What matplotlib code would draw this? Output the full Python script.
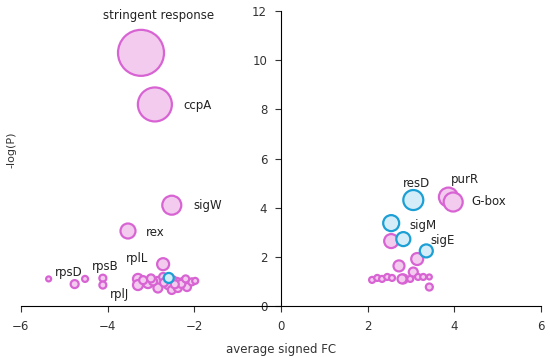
import matplotlib.pyplot as plt
import numpy as np

# pink bubbles (x = average signed FC, y = -log(P), r = bubble radius)
pink_x = [-3.23, -2.91, -2.52, -3.53, -2.72,
          -5.36, -4.76, -4.52, -4.11, -4.11,
          -3.30, -3.30, -3.07, -2.84, -2.84, -2.72, -2.63, -2.61, -2.52,
          -2.40, -2.38, -2.26, -2.17, -2.06, -3.18, -2.95, -2.50, -2.30,
          -3.00, -2.70, -2.45, -2.20, -1.98,
          3.86, 3.97, 2.54, 3.14, 2.72, 3.05, 2.82, 3.42,
          2.10, 2.22, 2.33, 2.45, 2.56, 2.79, 2.98, 3.16, 3.28, 3.42]
pink_y = [10.3, 8.2, 4.1, 3.05, 1.7,
          1.10, 0.89, 1.10, 1.13, 0.85,
          1.10, 0.85, 0.93, 0.98, 0.73, 1.18, 1.02, 0.85, 0.65,
          0.98, 0.73, 0.98, 0.77, 0.98, 1.05, 1.0, 1.05, 0.9,
          1.12, 0.95, 0.88, 1.10, 1.02,
          4.43, 4.23, 2.64, 1.91, 1.63, 1.38, 1.10, 0.77,
          1.06, 1.14, 1.10, 1.18, 1.14, 1.10, 1.10, 1.18, 1.18, 1.18]
pink_r = [23, 17, 9.5, 7.5, 6,
          2.5, 4, 3, 3.5, 3.5,
          5, 5, 5, 5, 4.5, 4, 4.5, 4, 4,
          4, 4, 4, 4, 3.5, 4, 4, 4, 4,
          4, 4, 4, 3.5, 3,
          9.5, 9.5, 7, 6, 5.5, 4.5, 4.5, 3.5,
          3, 3, 3, 3, 3, 4.5, 3, 3, 3, 2.5]

# blue bubbles
blue_x = [-2.59, 3.05, 2.54, 2.82, 3.35]
blue_y = [1.14, 4.31, 3.37, 2.72, 2.24]
blue_r = [5, 10, 8, 7, 6.5]

# labels
lab_text = ['stringent response', 'ccpA', 'sigW', 'rex', 'rplL', 'rpsD',
            'rpsB', 'rplJ', 'resD', 'purR', 'G-box', 'sigM', 'sigE']
lab_x = [-2.82, -2.26, -2.03, -3.12, -3.33, -4.90, -4.06, -3.72, 3.12, 4.25, 4.39, 3.28, 3.72]
lab_y = [11.8, 8.15, 4.1, 3.0, 1.95, 1.38, 1.59, 0.45, 5.0, 5.16, 4.27, 3.29, 2.68]
lab_ha = ['center', 'left', 'left', 'left', 'center', 'center',
          'center', 'center', 'center', 'center', 'left', 'center', 'center']

def area(r):
    return (2 * np.array(r) * 72 / 100) ** 2

fig = plt.figure(figsize=(5.5, 3.57), dpi=100)
ax = fig.add_axes([0.038, 0.143, 0.946, 0.826])

ax.scatter(pink_x, pink_y, s=area(pink_r), facecolor='#f2cbee', edgecolor='#d864d4',
           linewidth=1.6, zorder=3)
ax.scatter(blue_x, blue_y, s=area(blue_r), facecolor='#d4edf8', edgecolor='#1c9fd4',
           linewidth=1.6, zorder=4)

for t, x, y, ha in zip(lab_text, lab_x, lab_y, lab_ha):
    ax.text(x, y, t, fontsize=8.5, ha=ha, va='center', color='#222222', zorder=5)

ax.set_xlim(-6, 6)
ax.set_ylim(0, 12)
ax.set_xticks([-6, -4, -2, 0, 2, 4, 6])
ax.set_yticks([0, 2, 4, 6, 8, 10, 12])
ax.spines['left'].set_position(('data', 0))
ax.spines['top'].set_visible(False)
ax.spines['right'].set_visible(False)
ax.tick_params(labelsize=8.5, colors='#333333', length=4, direction='out')
ax.tick_params(axis='y', pad=6)
ax.tick_params(axis='x', pad=6)
ax.set_xlabel('average signed FC', fontsize=8.5, color='#333333', labelpad=7)
ax.set_ylabel('-log(P)', fontsize=8, color='#333333')
ax.yaxis.set_label_coords(-0.008, 0.53)

fig.savefig('out.png', dpi=100)
